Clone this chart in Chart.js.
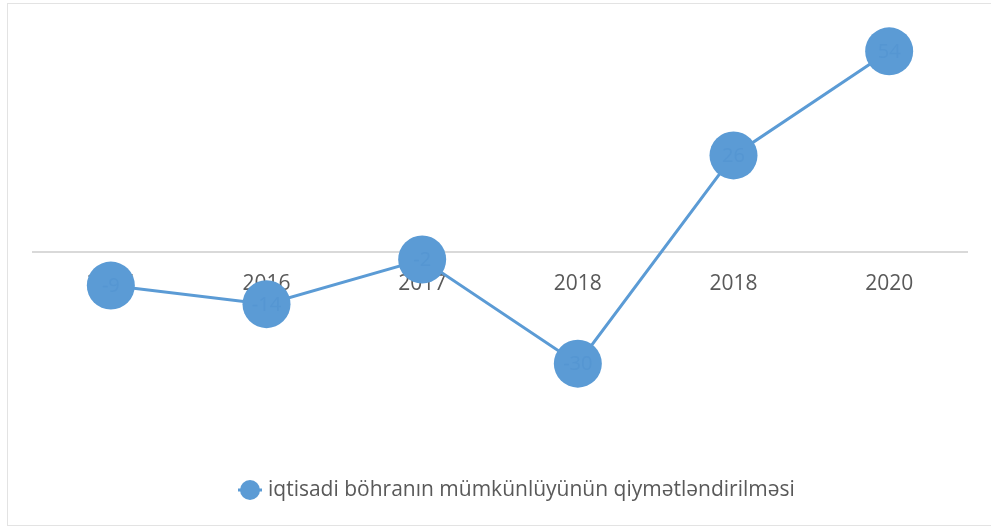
<!DOCTYPE html>
<html lang="az">
<head>
    <meta charset="UTF-8">
    <title>iqtisadi böhranın mümkünlüyünün qiymətləndirilməsi</title>
    <style>
        html, body {
            margin: 0;
            padding: 0;
            background: #ffffff;
        }
    </style>
</head>
<body>

<canvas id="crisisChart" width="991" height="528"></canvas>

<script src="https://cdn.jsdelivr.net/npm/chart.js"></script>
<script>
    // dados
    const years = ['2015', '2016', '2017', '2018', '2018', '2020'];
    const crisisValues = [-9, -14, -2, -30, 26, 54];
    const seriesName = 'iqtisadi böhranın mümkünlüyünün qiymətləndirilməsi';

    const blue = '#5B9BD5';
    const fontFamily = '"Open Sans", sans-serif';

    // moldura cinza à volta do gráfico (sem lado direito visível)
    const framePlugin = {
        id: 'frame',
        beforeDraw(chart) {
            const ctx = chart.ctx;
            ctx.save();
            ctx.strokeStyle = '#e3e3e3';
            ctx.lineWidth = 1;
            ctx.strokeRect(7.5, 3.5, 1000, 522);
            ctx.restore();
        }
    };

    // rótulos dentro dos marcadores
    const valueLabels = {
        id: 'valueLabels',
        afterDatasetsDraw(chart) {
            const ctx = chart.ctx;
            const meta = chart.getDatasetMeta(0);
            ctx.save();
            ctx.font = '20px ' + fontFamily;
            ctx.fillStyle = '#5596d2';
            ctx.textAlign = 'center';
            ctx.textBaseline = 'middle';
            meta.data.forEach((pt, i) => {
                ctx.fillText(String(crisisValues[i]), pt.x, pt.y + 1);
            });
            ctx.restore();
        }
    };

    // legenda desenhada à mão (linha + círculo)
    const lineLegend = {
        id: 'lineLegend',
        afterDraw(chart) {
            const ctx = chart.ctx;
            const y = 490;
            ctx.save();
            ctx.strokeStyle = blue;
            ctx.lineWidth = 3;
            ctx.beginPath();
            ctx.moveTo(238, y);
            ctx.lineTo(262, y);
            ctx.stroke();
            ctx.fillStyle = blue;
            ctx.beginPath();
            ctx.arc(250, y, 10, 0, Math.PI * 2);
            ctx.fill();
            ctx.font = '21px ' + fontFamily;
            ctx.fillStyle = '#595959';
            ctx.textAlign = 'left';
            ctx.textBaseline = 'middle';
            ctx.fillText(seriesName, 268, y);
            ctx.restore();
        }
    };

    const ctx = document.getElementById('crisisChart').getContext('2d');
    new Chart(ctx, {
        type: 'line',
        data: {
            labels: years,
            datasets: [{
                label: seriesName,
                data: crisisValues,
                borderColor: blue,
                backgroundColor: blue,
                borderWidth: 3,
                pointRadius: 24,
                pointHoverRadius: 24,
                pointBorderWidth: 0,
                tension: 0,
                clip: false
            }]
        },
        options: {
            responsive: false,
            animation: false,
            layout: {
                padding: { left: 33, right: 22, top: 29, bottom: 90 }
            },
            scales: {
                x: {
                    position: { y: 0 },
                    offset: true,
                    grid: { display: false },
                    border: { display: true, color: '#d9d9d9', width: 2 },
                    ticks: {
                        color: '#595959',
                        padding: 11,
                        autoSkip: false,
                        maxRotation: 0,
                        font: { family: fontFamily, size: 21 }
                    }
                },
                y: {
                    display: false,
                    min: -50,
                    max: 60
                }
            },
            plugins: {
                legend: { display: false },
                tooltip: { enabled: false }
            }
        },
        plugins: [framePlugin, valueLabels, lineLegend]
    });
</script>

</body>
</html>
